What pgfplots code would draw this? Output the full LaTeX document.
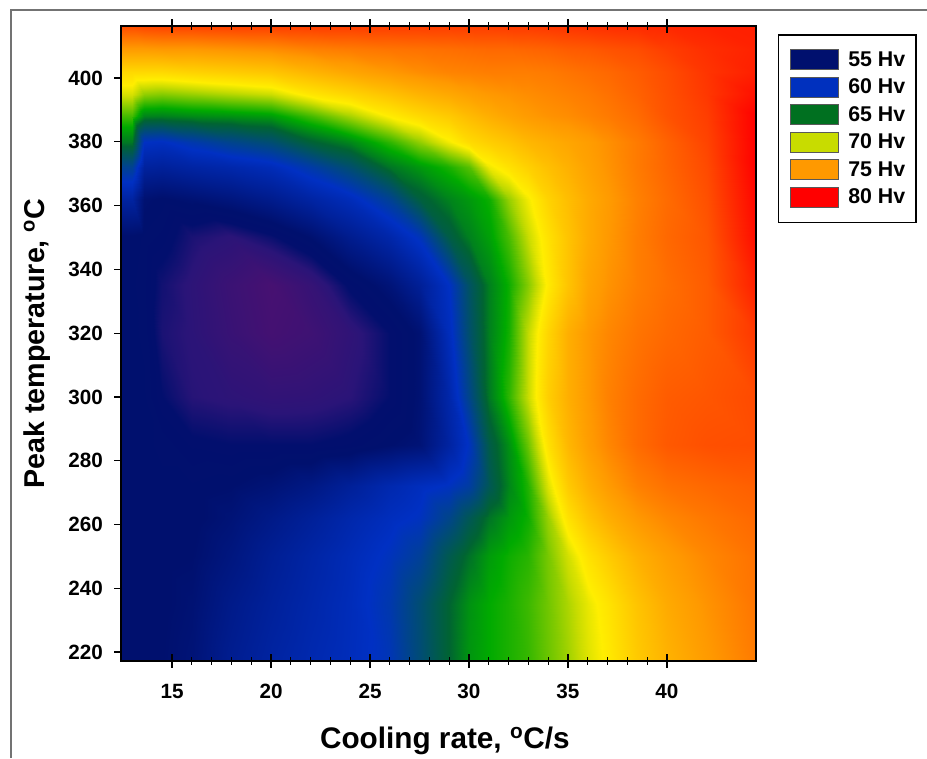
\documentclass[border=0pt]{standalone}
\usepackage{fontspec}
\setmainfont{Liberation Sans}
\usepackage{pgfplots}
\pgfplotsset{compat=1.18}
\definecolor{c55}{RGB}{0,16,110}
\definecolor{c60}{RGB}{0,48,190}
\definecolor{c65}{RGB}{0,112,32}
\definecolor{c70}{RGB}{200,220,0}
\definecolor{c75}{RGB}{255,153,0}
\definecolor{c80}{RGB}{255,0,0}
\begin{document}
\begin{tikzpicture}
\path[use as bounding box] (0,0) rectangle (695.25pt,568.5pt);
\fill[white] (0,0) rectangle (695.25pt,568.5pt);
\draw[black!55,line width=0.9pt] (8.25pt,0pt) -- (8.25pt,561pt) -- (695.25pt,561pt);
\begin{axis}[
  at={(90.75pt,72.75pt)}, anchor=south west,
  scale only axis, width=476.25pt, height=476.25pt,
  xmin=12.42, xmax=44.5, ymin=217.2, ymax=416.3,
  axis on top, axis line style={line width=1pt,black},
  xtick={15,20,25,30,35,40}, ytick={220,240,...,400},
  minor x tick num=4,
  xtick pos=both, ytick pos=left,
  xtick align=center, ytick align=outside,
  xticklabel pos=bottom,
  tick style={black,line width=0.9pt},
  major tick length=10pt, minor tick length=5.5pt,
  ytick style={black,line width=0.9pt,dash pattern=on 0pt off 5pt on 5pt off 30pt},
  /pgf/number format/assume math mode=true,
  tick label style={font=\fontsize{15.5}{18}\selectfont\bfseries},
  xticklabel style={yshift=-9pt}, yticklabel style={xshift=0pt},
  xlabel={Cooling rate, \textsuperscript{o}C/s},
  ylabel={Peak temperature, \textsuperscript{o}C},
  every axis x label/.style={at={(axis description cs:0.51,-0.126)},anchor=center,font=\fontsize{22.3}{26}\selectfont\bfseries},
  every axis y label/.style={at={(axis description cs:-0.132,0.5)},anchor=center,rotate=90,font=\fontsize{21.5}{26}\selectfont\bfseries},
  colormap={hv}{rgb255(50pt)=(85,15,110) rgb255(53pt)=(42,20,120) rgb255(54pt)=(2,15,110) rgb255(55pt)=(0,16,110)
    rgb255(60pt)=(0,48,195) rgb255(65pt)=(0,100,50) rgb255(67pt)=(0,170,0) rgb255(70pt)=(200,220,0)
    rgb255(71pt)=(255,238,0) rgb255(75pt)=(255,153,0) rgb255(80pt)=(255,0,0)},
  point meta min=50, point meta max=80,
  legend style={at={(1.0346,0.987)},anchor=north west,draw=black,line width=1pt,
    font=\fontsize{16}{18}\selectfont\bfseries,cells={anchor=west},
    inner xsep=6pt,inner ysep=10.5pt,row sep=3.95pt,fill=white},
  legend image code/.code={\draw[#1,draw=black!65,line width=0.7pt] (0pt,-7.5pt) rectangle (36pt,7.5pt); \path (-2.25pt,0pt) (41pt,0pt);},
]
\addlegendimage{fill=c55}\addlegendentry{55 Hv\hspace{15pt}}
\addlegendimage{fill=c60}\addlegendentry{60 Hv\hspace{15pt}}
\addlegendimage{fill=c65}\addlegendentry{65 Hv\hspace{15pt}}
\addlegendimage{fill=c70}\addlegendentry{70 Hv\hspace{15pt}}
\addlegendimage{fill=c75}\addlegendentry{75 Hv\hspace{15pt}}
\addlegendimage{fill=c80}\addlegendentry{80 Hv\hspace{15pt}}
\addplot[surf,shader=interp,mesh/cols=24,point meta=explicit,forget plot] coordinates {
(12.42,217.2)[54.8] (13,217.2)[54.8] (13.6,217.2)[54.9] (14.5,217.2)[55] (16,217.2)[55.5] (18,217.2)[57] (20,217.2)[58] (22,217.2)[58.8] (24,217.2)[59.5] (26,217.2)[60.5] (27.5,217.2)[62.7] (29,217.2)[65] (30,217.2)[66.4] (31,217.2)[67] (32,217.2)[67.4] (33,217.2)[67.8] (34,217.2)[68.6] (35,217.2)[69.4] (36,217.2)[70.4] (37,217.2)[71.2] (38.5,217.2)[72.7] (40,217.2)[73.8] (42,217.2)[74.9] (44.5,217.2)[76]
(12.42,235)[54.8] (13,235)[54.8] (13.6,235)[54.8] (14.5,235)[54.9] (16,235)[55.3] (18,235)[56.6] (20,235)[57.6] (22,235)[58.5] (24,235)[59.4] (26,235)[60.8] (27.5,235)[62.8] (29,235)[65] (30,235)[66.3] (31,235)[67] (32,235)[67.4] (33,235)[67.9] (34,235)[68.7] (35,235)[69.6] (36,235)[70.6] (37,235)[71.5] (38.5,235)[73] (40,235)[74.2] (42,235)[75.2] (44.5,235)[76.2]
(12.42,250)[54.8] (13,250)[54.8] (13.6,250)[54.8] (14.5,250)[54.9] (16,250)[55] (18,250)[56] (20,250)[57.2] (22,250)[58.2] (24,250)[59.2] (26,250)[60.3] (27.5,250)[61.5] (29,250)[64] (30,250)[65.4] (31,250)[66.6] (32,250)[67.2] (33,250)[67.6] (34,250)[68.8] (35,250)[70.2] (36,250)[71.6] (37,250)[72.6] (38.5,250)[73.9] (40,250)[74.8] (42,250)[75.6] (44.5,250)[76.3]
(12.42,262)[54.8] (13,262)[54.8] (13.6,262)[54.8] (14.5,262)[54.8] (16,262)[54.8] (18,262)[55.5] (20,262)[56.5] (22,262)[57.5] (24,262)[58.6] (26,262)[59.6] (27.5,262)[60.2] (29,262)[62] (30,262)[63.8] (31,262)[65.5] (32,262)[66.5] (33,262)[67.2] (34,262)[69.3] (35,262)[71.6] (36,262)[73] (37,262)[74] (38.5,262)[75] (40,262)[75.6] (42,262)[76.1] (44.5,262)[76.6]
(12.42,272)[54.8] (13,272)[54.8] (13.6,272)[54.8] (14.5,272)[54.8] (16,272)[54.8] (18,272)[55] (20,272)[55.5] (22,272)[56.3] (24,272)[57.5] (26,272)[58.8] (27.5,272)[59.6] (29,272)[60.2] (30,272)[61.2] (31,272)[63.8] (32,272)[66] (33,272)[67.5] (34,272)[70.4] (35,272)[72.7] (36,272)[74] (37,272)[74.9] (38.5,272)[75.8] (40,272)[76.3] (42,272)[76.6] (44.5,272)[76.9]
(12.42,285)[54.8] (13,285)[54.8] (13.6,285)[54.8] (14.5,285)[54.7] (16,285)[54.2] (18,285)[54] (20,285)[54] (22,285)[54] (24,285)[54.3] (26,285)[55] (27.5,285)[55.5] (29,285)[58] (30,285)[60.2] (31,285)[64.2] (32,285)[66.3] (33,285)[68.6] (34,285)[71.6] (35,285)[73.6] (36,285)[74.8] (37,285)[75.6] (38.5,285)[76.5] (40,285)[77.1] (42,285)[77.4] (44.5,285)[77.5]
(12.42,300)[54.8] (13,300)[54.8] (13.6,300)[54.8] (14.5,300)[54] (16,300)[53.1] (18,300)[52.8] (20,300)[52.5] (22,300)[52.6] (24,300)[53] (26,300)[54] (27.5,300)[55.3] (29,300)[58.5] (30,300)[62] (31,300)[65.6] (32,300)[67.7] (33,300)[70] (34,300)[72.5] (35,300)[74] (36,300)[75] (37,300)[75.8] (38.5,300)[76.5] (40,300)[77] (42,300)[77.2] (44.5,300)[77.6]
(12.42,320)[54.8] (13,320)[54.8] (13.6,320)[54.7] (14.5,320)[53.4] (16,320)[52.9] (18,320)[52] (20,320)[51.2] (22,320)[51.6] (24,320)[52.6] (26,320)[54] (27.5,320)[55.3] (29,320)[59.5] (30,320)[63] (31,320)[65.8] (32,320)[67.3] (33,320)[69.9] (34,320)[72.2] (35,320)[74] (36,320)[75] (37,320)[75.6] (38.5,320)[76.2] (40,320)[76.6] (42,320)[77] (44.5,320)[78.2]
(12.42,335)[54.8] (13,335)[54.8] (13.6,335)[54.6] (14.5,335)[53.6] (16,335)[52.8] (18,335)[51.8] (20,335)[51] (22,335)[52.2] (24,335)[54.2] (26,335)[55.6] (27.5,335)[57.4] (29,335)[60] (30,335)[63.3] (31,335)[65.8] (32,335)[67.2] (33,335)[69] (34,335)[71.2] (35,335)[73] (36,335)[74.5] (37,335)[75.2] (38.5,335)[75.9] (40,335)[76.4] (42,335)[77] (44.5,335)[79]
(12.42,350)[54.9] (13,350)[54.9] (13.6,350)[54.7] (14.5,350)[54.4] (16,350)[53.4] (18,350)[52.9] (20,350)[53.8] (22,350)[55.1] (24,350)[56.9] (26,350)[58.5] (27.5,350)[60.4] (29,350)[64.3] (30,350)[65.8] (31,350)[66.7] (32,350)[68.1] (33,350)[70] (34,350)[71.6] (35,350)[73] (36,350)[74.2] (37,350)[75] (38.5,350)[75.9] (40,350)[76.6] (42,350)[77.2] (44.5,350)[79.6]
(12.42,362)[58] (13,362)[58] (13.6,362)[55.2] (14.5,362)[54.9] (16,362)[55.3] (18,362)[55.9] (20,362)[56.8] (22,362)[58.1] (24,362)[59.4] (26,362)[61.7] (27.5,362)[64.6] (29,362)[65.9] (30,362)[66.5] (31,362)[67.2] (32,362)[69.3] (33,362)[70.8] (34,362)[72.3] (35,362)[73.3] (36,362)[74.2] (37,362)[74.9] (38.5,362)[75.8] (40,362)[76.5] (42,362)[77.4] (44.5,362)[79.8]
(12.42,372)[61.7] (13,372)[61.7] (13.6,372)[57.8] (14.5,372)[57.6] (16,372)[58.1] (18,372)[58.6] (20,372)[59.3] (22,372)[61] (24,372)[62.9] (26,372)[65.5] (27.5,372)[66.5] (29,372)[67.4] (30,372)[68.3] (31,372)[70.7] (32,372)[71.6] (33,372)[72.4] (34,372)[73.2] (35,372)[73.9] (36,372)[74.6] (37,372)[75.2] (38.5,372)[76] (40,372)[76.7] (42,372)[77.6] (44.5,372)[80]
(12.42,380)[65.6] (13,380)[65.6] (13.6,380)[60] (14.5,380)[59.8] (16,380)[60.8] (18,380)[61.9] (20,380)[62.8] (22,380)[64.8] (24,380)[66] (26,380)[67.7] (27.5,380)[69.2] (29,380)[70.8] (30,380)[71.9] (31,380)[72.5] (32,380)[73] (33,380)[73.6] (34,380)[74] (35,380)[74.4] (36,380)[74.8] (37,380)[75.3] (38.5,380)[76] (40,380)[76.8] (42,380)[77.8] (44.5,380)[80]
(12.42,388)[68] (13,388)[68] (13.6,388)[65.9] (14.5,388)[65.8] (16,388)[66.1] (18,388)[66.3] (20,388)[66.6] (22,388)[68] (24,388)[69.5] (26,388)[71.1] (27.5,388)[72] (29,388)[72.7] (30,388)[73.4] (31,388)[74] (32,388)[74.5] (33,388)[74.9] (34,388)[75.2] (35,388)[75.4] (36,388)[75.7] (37,388)[76] (38.5,388)[76.5] (40,388)[77.3] (42,388)[78] (44.5,388)[80]
(12.42,395)[70.3] (13,395)[70.3] (13.6,395)[69.2] (14.5,395)[69] (16,395)[69.3] (18,395)[69.7] (20,395)[70.1] (22,395)[71.4] (24,395)[72.2] (26,395)[73.1] (27.5,395)[73.8] (29,395)[74.3] (30,395)[74.7] (31,395)[75] (32,395)[75.2] (33,395)[75.4] (34,395)[75.6] (35,395)[75.8] (36,395)[76] (37,395)[76.3] (38.5,395)[76.8] (40,395)[77.4] (42,395)[78.2] (44.5,395)[79.5]
(12.42,402)[72] (13,402)[72] (13.6,402)[72] (14.5,402)[72] (16,402)[72.3] (18,402)[72.6] (20,402)[72.9] (22,402)[73.7] (24,402)[74.4] (26,402)[75] (27.5,402)[75.4] (29,402)[75.7] (30,402)[75.8] (31,402)[75.9] (32,402)[75.9] (33,402)[75.9] (34,402)[76] (35,402)[76.2] (36,402)[76.4] (37,402)[76.6] (38.5,402)[77] (40,402)[77.5] (42,402)[78.3] (44.5,402)[79]
(12.42,409)[74.9] (13,409)[74.9] (13.6,409)[74.9] (14.5,409)[75] (16,409)[75] (18,409)[75.2] (20,409)[75.4] (22,409)[75.8] (24,409)[76] (26,409)[76.2] (27.5,409)[76.3] (29,409)[76.4] (30,409)[76.5] (31,409)[76.6] (32,409)[76.6] (33,409)[76.7] (34,409)[76.8] (35,409)[77] (36,409)[77.1] (37,409)[77.3] (38.5,409)[77.5] (40,409)[78] (42,409)[78.5] (44.5,409)[78.9]
(12.42,416.3)[77.5] (13,416.3)[77.5] (13.6,416.3)[77.7] (14.5,416.3)[77.8] (16,416.3)[77.8] (18,416.3)[77.9] (20,416.3)[77.9] (22,416.3)[78] (24,416.3)[78] (26,416.3)[78] (27.5,416.3)[78] (29,416.3)[78] (30,416.3)[78] (31,416.3)[78] (32,416.3)[78.1] (33,416.3)[78.1] (34,416.3)[78.2] (35,416.3)[78.3] (36,416.3)[78.4] (37,416.3)[78.5] (38.5,416.3)[78.6] (40,416.3)[78.7] (42,416.3)[78.9] (44.5,416.3)[79]
};
\end{axis}
\end{tikzpicture}
\end{document}
